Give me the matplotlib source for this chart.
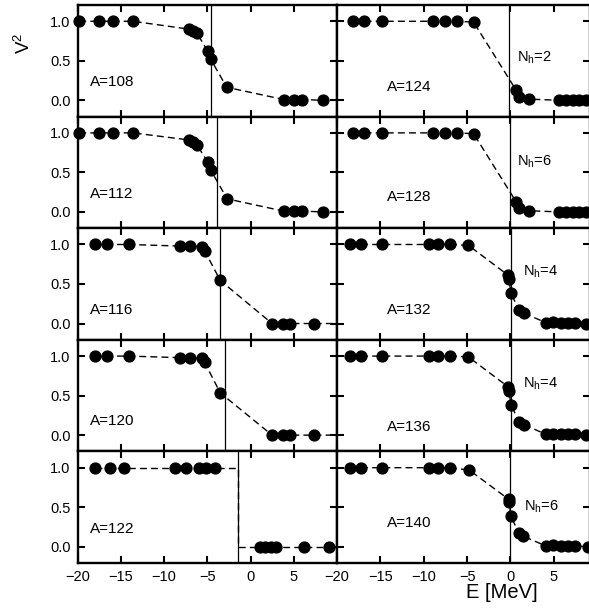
#!/usr/bin/env python3

import matplotlib
matplotlib.use("Agg")
import matplotlib.pyplot as plt

plt.rcParams["font.family"] = ["Liberation Sans", "DejaVu Sans"]
plt.rcParams["mathtext.default"] = "regular"

## Occupation probabilities v^2 vs single particle energy E [MeV]
# left column
E108 = [-19.8, -17.5, -15.9, -13.6, -7.06, -6.6, -6.2, -4.93, -4.6, -2.75, 3.85, 5.0, 6.0, 8.4, 11.0]
V108 = [1.0, 1.0, 1.0, 1.0, 0.90, 0.88, 0.85, 0.62, 0.52, 0.165, 0.01, 0.01, 0.01, 0.0, 0.0]
E112 = [-19.8, -17.5, -15.9, -13.6, -7.06, -6.6, -6.2, -4.93, -4.6, -2.7, 3.85, 5.0, 6.0, 8.4, 11.0]
V112 = [1.0, 1.0, 1.0, 1.0, 0.91, 0.88, 0.85, 0.63, 0.53, 0.165, 0.01, 0.01, 0.01, 0.0, 0.0]
E116 = [-18.0, -16.6, -14.1, -8.1, -7.05, -5.6, -5.3, -3.5, 2.5, 3.7, 4.6, 7.3, 10.5]
V116 = [1.0, 1.0, 1.0, 0.98, 0.98, 0.97, 0.92, 0.545, 0.0, 0.0, 0.0, 0.0, 0.0]
E120 = [-18.0, -16.6, -14.1, -8.1, -7.05, -5.6, -5.3, -3.5, 2.5, 3.7, 4.6, 7.3, 10.5]
V120 = [1.0, 1.0, 1.0, 0.98, 0.98, 0.97, 0.92, 0.535, 0.0, 0.0, 0.0, 0.0, 0.0]
E122 = [-18.0, -16.2, -14.6, -8.75, -7.5, -5.9, -5.1, -4.1, 1.15, 1.7, 2.4, 2.9, 6.2, 9.1]
V122 = [1.0, 1.0, 1.0, 1.0, 1.0, 1.0, 1.0, 1.0, 0.0, 0.0, 0.0, 0.0, 0.0, 0.0]
# right column
E124 = [-18.1, -16.9, -14.8, -8.9, -7.6, -6.2, -4.25, 0.65, 1.0, 2.2, 5.65, 6.4, 7.2, 7.9, 8.7, 10.0]
V124 = [1.0, 1.0, 1.0, 1.0, 1.0, 1.0, 0.99, 0.13, 0.045, 0.015, 0.0, 0.0, 0.0, 0.0, 0.0, 0.0]
E128 = [-18.1, -16.9, -14.8, -8.9, -7.6, -6.2, -4.25, 0.65, 1.0, 2.2, 5.65, 6.4, 7.2, 7.9, 8.7, 10.0]
V128 = [1.0, 1.0, 1.0, 1.0, 1.0, 1.0, 0.99, 0.13, 0.045, 0.015, 0.0, 0.0, 0.0, 0.0, 0.0, 0.0]
E132 = [-18.5, -17.2, -14.8, -9.4, -8.4, -7.0, -4.85, -0.25, -0.15, 0.05, 1.0, 1.6, 4.1, 4.9, 5.8, 6.6, 7.4, 8.7, 10.0]
V132 = [1.0, 1.0, 1.0, 1.0, 1.0, 1.0, 0.99, 0.61, 0.56, 0.385, 0.17, 0.13, 0.01, 0.02, 0.01, 0.01, 0.01, 0.0, 0.0]
E136 = [-18.5, -17.2, -14.8, -9.4, -8.4, -7.0, -4.85, -0.25, -0.15, 0.05, 1.0, 1.6, 4.1, 4.9, 5.8, 6.6, 7.4, 8.7, 10.0]
V136 = [1.0, 1.0, 1.0, 1.0, 1.0, 1.0, 0.99, 0.61, 0.56, 0.385, 0.17, 0.13, 0.01, 0.02, 0.01, 0.01, 0.01, 0.0, 0.0]
E140 = [-18.5, -17.2, -14.8, -9.4, -8.4, -7.0, -4.75, -0.2, -0.15, 0.05, 1.0, 1.5, 4.1, 4.95, 5.8, 6.6, 7.5, 8.9, 10.0]
V140 = [1.0, 1.0, 1.0, 1.0, 1.0, 1.0, 0.97, 0.6, 0.56, 0.385, 0.17, 0.13, 0.01, 0.025, 0.01, 0.01, 0.01, 0.0, 0.0]

# Fermi energies (vertical lines)
FermiLeft  = [-4.57, -3.9, -3.5, -3.0, -1.45]
FermiRight = [-0.2, -0.1, 0.07, 0.05, 0.0]

MassLeft  = [108, 112, 116, 120, 122]
MassRight = [124, 128, 132, 136, 140]
NhRight   = [2, 6, 4, 4, 6]

DataLeft  = [(E108, V108), (E112, V112), (E116, V116), (E120, V120), (E122, V122)]
DataRight = [(E124, V124), (E128, V128), (E132, V132), (E136, V136), (E140, V140)]

# label positions (data coords)
ALabelLeftY  = [0.23, 0.23, 0.17, 0.18, 0.22]
ALabelRightY = [0.17, 0.19, 0.165, 0.10, 0.30]
NhLabelX = [0.8, 0.8, 1.4, 1.4, 1.6]
NhLabelY = [0.54, 0.64, 0.66, 0.65, 0.51]

fig = plt.figure(figsize=(5.89, 6.11), dpi=100, facecolor="white")

W, H = 589.0, 611.0
rowTop = 5.0
rowH = 111.6

def style_axes(ax, xmax):
  ax.set_xlim(-20, xmax)
  ax.set_ylim(-0.206, 1.206)
  ax.set_xticks([-20, -15, -10, -5, 0, 5])
  ax.set_yticks([0.0, 0.5, 1.0])
  ax.tick_params(direction="in", length=5, width=1.5, top=True, right=True,
                 labelsize=10.5, pad=5)
  for s in ax.spines.values():
    s.set_linewidth(1.7)

for col in range(2):
  for row in range(5):
    top = rowTop + row*rowH
    bottom = 1 - (top + rowH)/H
    if col == 0:
      ax = fig.add_axes([77.5/W, bottom, (337-77.5)/W, rowH/H])
      xmax = 10
      E, V = DataLeft[row]
      ef = FermiLeft[row]
      A = MassLeft[row]
      style_axes(ax, xmax)
      ax.yaxis.set_major_formatter(matplotlib.ticker.FormatStrFormatter("%.1f"))
    else:
      ax = fig.add_axes([337/W, bottom, (589.5-337)/W, rowH/H])
      xmax = 9.12
      E, V = DataRight[row]
      ef = FermiRight[row]
      A = MassRight[row]
      style_axes(ax, xmax)
      ax.set_yticklabels([])
    if row < 4:
      ax.set_xticklabels([])

    # the step at the Fermi level for A=122 (no levels near ef)
    if col == 0 and row == 4:
      Ex = E[:8] + [ef, ef] + E[8:]
      Vx = V[:8] + [1.0, 0.0] + V[8:]
    else:
      Ex, Vx = E, V
    ax.plot(Ex, Vx, ls=(0, (5, 3)), lw=1.0, c="black")
    inside = [(e, v) for e, v in zip(E, V) if e <= xmax]
    ax.plot([p[0] for p in inside], [p[1] for p in inside], ls="none",
            marker="o", ms=7.8, c="black", clip_on=False, zorder=3)
    ax.axvline(x=ef, c="black", lw=0.9)

    if col == 0:
      ax.text(-18.6, ALabelLeftY[row], "A={}".format(A), fontsize=11, va="center")
    else:
      ax.text(-14.2, ALabelRightY[row], "A={}".format(A), fontsize=11, va="center")
      ax.text(NhLabelX[row], NhLabelY[row], "N$_h$={}".format(NhRight[row]),
              fontsize=10.5, va="center")

fig.text(24/W, 1 - 43/H, "V$^2$", rotation=90, fontsize=13.5, ha="center", va="center")
fig.text(502/W, 1 - 592/H, "E [MeV]", fontsize=14.5, ha="center", va="center")

plt.savefig("out.png", dpi=100, facecolor="white")
